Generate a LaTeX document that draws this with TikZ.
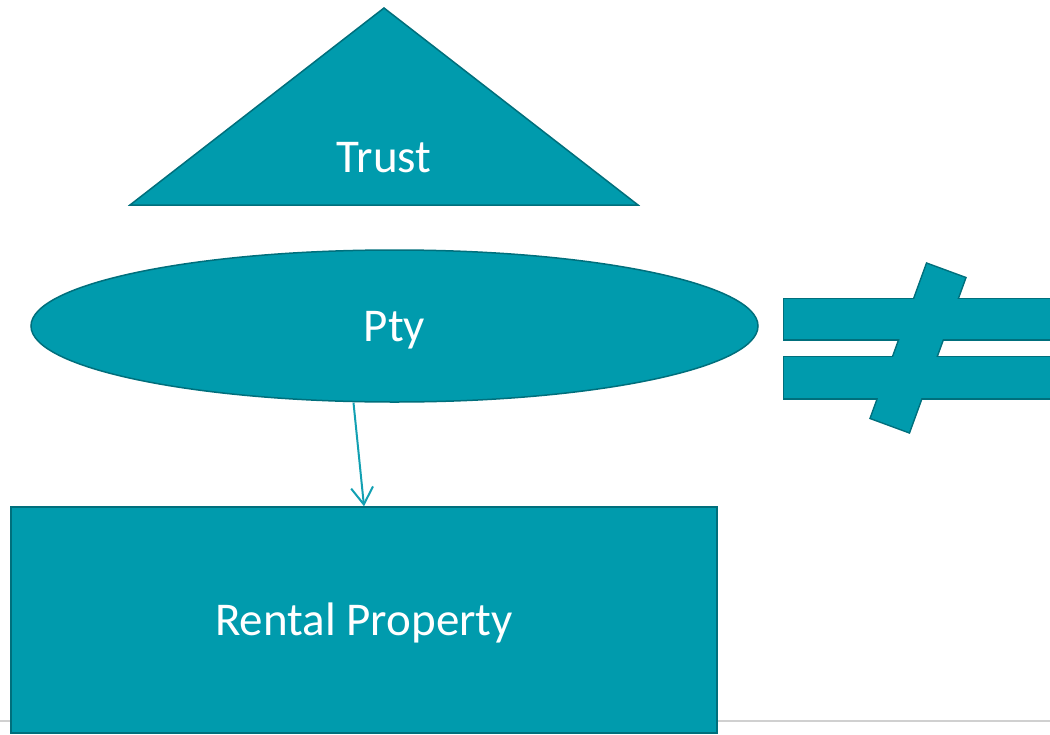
\documentclass[tikz,border=0pt]{standalone}
\usepackage{fontspec}
\setmainfont{Carlito}
\usepackage{tikz}
\usetikzlibrary{arrows.meta,shapes.geometric}

\definecolor{tealfill}{HTML}{009BAD}
\definecolor{tealedge}{HTML}{006F7C}
\definecolor{tealline}{HTML}{12A0B2}
\definecolor{rulegray}{HTML}{D0D0D0}

\begin{document}
\begin{tikzpicture}[x=1pt,y=-1pt,>={Straight Barb[length=17pt,width=22pt,line width=2pt]},
  blob/.style={fill=tealfill,draw=tealedge,line width=1.5pt},
  txt/.style={text=white,font=\fontsize{47}{56}\selectfont,text height=32pt,text depth=2pt},
  edgeonly/.style={draw=tealedge,line width=3pt},
  fillonly/.style={fill=tealfill}]
  \useasboundingbox (0,0) rectangle (1050,734);

  % slide footer rule
  \draw [rulegray, line width=2pt] (0,721) -- (1050,721);

  % trust
  \draw [blob] (384,8) -- (638,205) -- (130,205) -- cycle;
  \node [txt] (trust) at (384,157) {Trust};

  % company
  \node [blob, ellipse, inner sep=0pt, minimum width=727pt, minimum height=152pt, txt] (pty) at (394.5,326) {Pty};

  % property
  \node [blob, rectangle, inner sep=0pt, minimum width=706pt, minimum height=226pt, txt] (rental) at (364,620) {Rental Property};

  \draw [->, tealline, line width=2pt] ([xshift=-41pt]pty.south) -- (rental.north);

  % not equal sign: outline first, then fill over it
  \foreach \s in {edgeonly, fillonly} {
    \path [\s] (784,299) rectangle (1070,339);
    \path [\s] (784,357) rectangle (1070,398);
    \path [\s] (927,264) -- (965,278) -- (909,432) -- (871,418) -- cycle;
  }
\end{tikzpicture}
\end{document}
